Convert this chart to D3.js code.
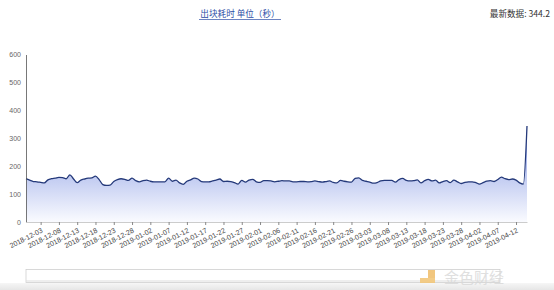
<!DOCTYPE html>
<html><head><meta charset="utf-8">
<script src="https://cdn.jsdelivr.net/npm/d3@7"></script>
<style>
html,body{margin:0;padding:0;background:#fff;}
svg{display:block;font-family:"Noto Sans CJK SC","Noto Sans",Arial,sans-serif;}
</style></head>
<body><svg id="c" width="554" height="290"></svg>
<script>
const startDate = "2018-11-29";
const values = [155,150,145,144,142,140,151,155,157,160,159,155,169,154,141,150,154,157,158,164,
152,134,131,132,145,152,155,153,149,157,148,144,148,150,146,144,144,144,144,157,
146,150,140,135,146,151,157,154,145,144,144,147,150,154,145,146,145,141,136,149,
143,150,153,144,142,148,148,147,144,146,148,147,147,144,144,145,145,144,145,147,
145,143,145,147,142,140,149,146,144,143,156,158,149,146,143,139,141,147,149,149,
149,143,152,156,149,147,148,151,140,148,153,147,150,140,145,148,141,150,144,138,
142,144,144,141,136,141,146,148,145,152,161,155,152,154,150,140,136,344.2];
const tickLabels = ["2018-12-03","2018-12-08","2018-12-13","2018-12-18","2018-12-23","2018-12-28",
"2019-01-02","2019-01-07","2019-01-12","2019-01-17","2019-01-22","2019-01-27","2019-02-01",
"2019-02-06","2019-02-11","2019-02-16","2019-02-21","2019-02-26","2019-03-03","2019-03-08",
"2019-03-13","2019-03-18","2019-03-23","2019-03-28","2019-04-02","2019-04-07","2019-04-12"];
const yTicks = [0,100,200,300,400,500,600];
const title = "出块耗时 单位（秒）";
const latestLabel = "最新数据: ";

const parse = d3.utcParse("%Y-%m-%d");
const t0 = parse(startDate);
const data = values.map((v,i)=>({date:d3.utcDay.offset(t0,i), v}));

const svg = d3.select("#c");
const L=26, R=527, T=54.5, B=222;
const x = d3.scaleUtc().domain(d3.extent(data,d=>d.date)).range([L,R]);
const y = d3.scaleLinear().domain([0,600]).range([B,T]);

const defs = svg.append("defs");
const g = defs.append("linearGradient").attr("id","ag").attr("x1",0).attr("y1",0).attr("x2",0).attr("y2",1);
g.append("stop").attr("offset","0").attr("stop-color","rgb(128,148,225)");
g.append("stop").attr("offset","1").attr("stop-color","rgb(250,251,255)");
const bg = defs.append("linearGradient").attr("id","bg").attr("x1",0).attr("y1",0).attr("x2",0).attr("y2",1);
bg.append("stop").attr("offset","0").attr("stop-color","#f6f6f6");
bg.append("stop").attr("offset","1").attr("stop-color","#e6e6e6");

// title
svg.append("text").attr("x",240).attr("y",17).attr("text-anchor","middle")
  .attr("font-size",8.6).attr("fill","#2d4ea6").text(title);
svg.append("line").attr("x1",199).attr("x2",281).attr("y1",19.5).attr("y2",19.5).attr("stroke","#2d4ea6").attr("stroke-width",0.7);
svg.append("text").attr("x",550).attr("y",17).attr("text-anchor","end")
  .attr("font-size",8.6).attr("fill","#333").text(latestLabel + values[values.length-1]);

// area + line
const curve = d3.curveMonotoneX;
svg.append("path").datum(data).attr("fill","url(#ag)")
  .attr("d", d3.area().x(d=>x(d.date)).y0(B).y1(d=>y(d.v)).curve(curve));
svg.append("path").datum(data).attr("fill","none").attr("stroke","#24397a").attr("stroke-width",1.3)
  .attr("d", d3.line().x(d=>x(d.date)).y(d=>y(d.v)).curve(curve));

// y axis
const ya = svg.append("g").attr("transform",`translate(${L},0)`)
  .call(d3.axisLeft(y).tickValues(yTicks).tickSize(0).tickPadding(5));
ya.select(".domain").attr("stroke","#555").attr("stroke-width",0.8);
ya.selectAll("text").attr("font-size",7).attr("fill","#666").attr("font-family","Arial,Liberation Sans,sans-serif");

// x axis
const tickDates = tickLabels.map(parse);
const xa = svg.append("g").attr("transform",`translate(0,${B})`)
  .call(d3.axisBottom(x).tickValues(tickDates).tickSize(3).tickSizeOuter(0).tickFormat(d3.utcFormat("%Y-%m-%d")));
xa.select(".domain").attr("stroke","#ccc").attr("stroke-width",1);
xa.selectAll(".tick line").attr("stroke","#888");
xa.selectAll("text").attr("font-size",7).attr("fill","#444").attr("font-family","Arial,Liberation Sans,sans-serif")
  .attr("text-anchor","end").attr("dy",0).attr("y",0)
  .attr("transform","translate(2,10) rotate(-27)");

// data zoom bar
svg.append("rect").attr("x",0).attr("y",283).attr("width",554).attr("height",7).attr("fill","url(#bg)");
svg.append("rect").attr("x",L).attr("y",269.5).attr("width",474).attr("height",13).attr("fill","#fff")
  .attr("stroke","#cfcfcf").attr("stroke-width",0.8);
svg.append("line").attr("x1",L).attr("x2",500).attr("y1",281).attr("y2",281).attr("stroke","#ddd");

// watermark
svg.append("rect").attr("x",428).attr("y",270).attr("width",7).attr("height",8).attr("fill","#f0c070").attr("opacity",0.9);
svg.append("rect").attr("x",420).attr("y",278).attr("width",15).attr("height",5).attr("fill","#f2c77a").attr("opacity",0.9);
svg.append("text").attr("x",444).attr("y",283).attr("font-size",15).attr("fill","#d8d8d8").attr("opacity",0.8).text("金色财经");
</script></body></html>
